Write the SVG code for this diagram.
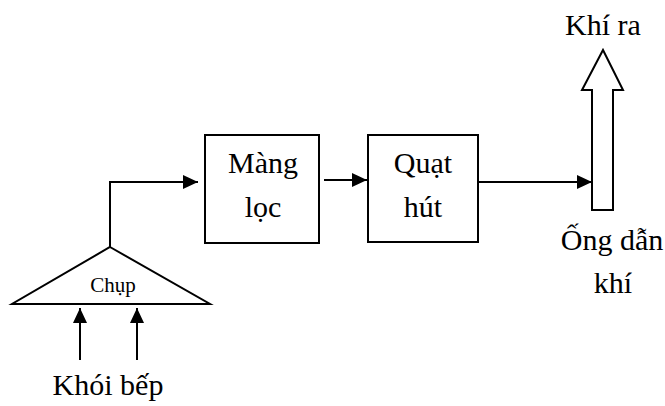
<svg xmlns="http://www.w3.org/2000/svg" width="665" height="406" viewBox="0 0 665 406">
  <style>
    .shape { fill: #ffffff; stroke: #000000; stroke-width: 2; }
    .line { fill: none; stroke: #000000; stroke-width: 2; }
    .label { font-family: "Liberation Serif", "Times New Roman", serif; font-size: 30px; fill: #000000; text-anchor: middle; }
    .small { font-size: 21px; }
  </style>
  <defs>
    <marker id="arrow" markerWidth="16" markerHeight="14" refX="15" refY="7" orient="auto" markerUnits="userSpaceOnUse">
      <path d="M0,0 L15,7 L0,14 Z" fill="#000000"/>
    </marker>
  </defs>

  <rect width="665" height="406" fill="#ffffff"/>

  <!-- connectors -->
  <g id="connectors">
    <path class="line" d="M80,360 L80,308" marker-end="url(#arrow)"/>
    <path class="line" d="M137,360 L137,308" marker-end="url(#arrow)"/>
    <path class="line" d="M110,247 L110,182 L198,182" marker-end="url(#arrow)"/>
    <path class="line" d="M324,180 L367,180" marker-end="url(#arrow)"/>
    <path class="line" d="M471,182 L592,182" marker-end="url(#arrow)"/>
  </g>

  <!-- hood -->
  <g id="chup">
    <polygon class="shape" points="110,247 210,304 12,304"/>
    <text class="label small" x="113" y="292">Chụp</text>
  </g>

  <!-- filter -->
  <g id="mang-loc">
    <rect class="shape" x="205" y="135" width="114" height="108"/>
    <text class="label" x="263" y="173">Màng</text>
    <text class="label" x="263" y="217">lọc</text>
  </g>

  <!-- fan -->
  <g id="quat-hut">
    <rect class="shape" x="368" y="135" width="110" height="107"/>
    <text class="label" x="423" y="173">Quạt</text>
    <text class="label" x="423" y="217">hút</text>
  </g>

  <!-- exhaust duct -->
  <g id="ong-dan">
    <polygon class="shape" points="592,210 613,210 613,90 623,90 603,50 582,90 592,90"/>
    <text class="label" x="603" y="35">Khí ra</text>
    <text class="label" x="612" y="250">Ống dẫn</text>
    <text class="label" x="613" y="293">khí</text>
  </g>

  <!-- smoke input -->
  <g id="khoi-bep">
    <text class="label" x="108" y="395">Khói bếp</text>
  </g>
</svg>
